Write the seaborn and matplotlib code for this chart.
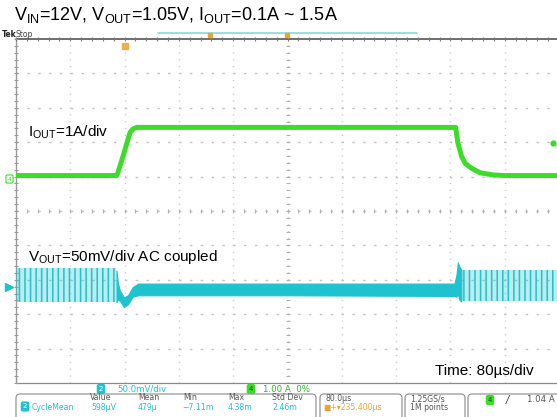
import matplotlib
matplotlib.use("Agg")
import matplotlib.pyplot as plt
import matplotlib.transforms as mtransforms
from matplotlib.patches import FancyBboxPatch
import pandas as pd
import seaborn as sns

# ---------------- acquisition data ----------------
# Channel 4: load current (A) against time (µs)
i_time_us = [0, 148.3, 150, 156, 162, 168, 172, 178,
             647.8, 651, 656.6, 662, 671.4, 683.6, 702.7, 720, 800]
i_load_a = [0.1, 0.1, 0.18, 0.55, 0.95, 1.35, 1.45, 1.5,
            1.5, 1.05, 0.65, 0.45, 0.31, 0.18, 0.12, 0.1, 0.1]

# Channel 2: output voltage envelope (mV, AC coupled)
v_left_t = [0, 148]
v_left_hi = [27, 27]
v_left_lo = [-22, -22]

v_band_t = [148, 150, 153, 159, 165, 172, 180, 200, 400, 646, 649, 651, 653, 656]
v_band_hi = [24, 6, -5, -15, -12, 0, 5, 5, 5, 5, 18, 36, 30, 25]
v_band_lo = [-22, -18, -20, -29, -25, -14, -12, -12, -12, -13, -14, -10, -18, -21]

v_right_t = [656, 800]
v_right_hi = [25, 25]
v_right_lo = [-21, -21]

trig_level_a = 1.04

# scope settings
US_PER_DIV = 80
A_PER_DIV = 1.0
MV_PER_DIV = 50
CH4_POS = 0.93    # divisions above centre
CH2_POS = -2.21

GREEN = "#3ddc2a"
CYAN = "#1fc3cf"
ORANGE = "#f0a22e"
UI_FONT = ["DejaVu Sans"]

sns.set_theme(style="white")
plt.rcParams["font.family"] = ["Liberation Sans", "DejaVu Sans"]
plt.rcParams["mathtext.default"] = "regular"
plt.rcParams["lines.scale_dashes"] = False
plt.rcParams["hatch.linewidth"] = 1.1

W, H = 557, 417
fig = plt.figure(figsize=(W / 100, H / 100), dpi=100)
fig.patch.set_facecolor("white")

GX0, GX1, GY0, GY1 = 16, 559, 39, 383
ax = fig.add_axes([GX0 / W, (H - GY1) / H, (GX1 - GX0) / W, (GY1 - GY0) / H])
ax.set_xlim(0, 10 * US_PER_DIV)
ax.set_ylim((-5 - CH4_POS) * A_PER_DIV, (5 - CH4_POS) * A_PER_DIV)
ax.axis("off")
ax2 = ax.twinx()
ax2.set_ylim((-5 - CH2_POS) * MV_PER_DIV, (5 - CH2_POS) * MV_PER_DIV)
ax2.axis("off")

# ---------------- graticule ----------------
grid_c = "#c4c4c4"
for k in range(1, 10):
    ax.plot([k / 10, k / 10], [0, 1], transform=ax.transAxes, color=grid_c,
            lw=1.0, ls=(0, (0.8, 4.15)), zorder=0)
    ax.plot([0, 1], [k / 10, k / 10], transform=ax.transAxes, color=grid_c,
            lw=1.0, ls=(0, (1.8, 6.0)), zorder=0)
minor = [j / 50 for j in range(51)]
ax.plot(minor, [0.5] * len(minor), transform=ax.transAxes, ls="none",
        marker="|", ms=3, mew=0.8, color="#b0b0b0", zorder=0)
ax.plot([0.5] * len(minor), minor, transform=ax.transAxes, ls="none",
        marker="_", ms=3, mew=0.8, color="#b0b0b0", zorder=0)
# borders
ax.plot([0, 0], [0, 1], transform=ax.transAxes, color="#9a9a9a", lw=1.0, clip_on=False)
ax.plot([0, 1], [1, 1], transform=ax.transAxes, color="#555555", lw=1.2, clip_on=False)
ax.plot([0, 1], [0, 0], transform=ax.transAxes, color="#8a8a8a", lw=0.9, clip_on=False)
ax.plot(minor, [1] * len(minor), transform=ax.transAxes, ls="none",
        marker="|", ms=3, mew=0.8, color="#777777", clip_on=False)
ax.plot([0] * len(minor), minor, transform=ax.transAxes, ls="none",
        marker="_", ms=3, mew=0.8, color="#999999", clip_on=False)

# ---------------- traces ----------------
ax2.fill_between(v_left_t, v_left_lo, v_left_hi, facecolor=(0.12, 0.76, 0.81, 0.30),
                 edgecolor=CYAN, hatch="|||", linewidth=0, zorder=2)
ax2.fill_between(v_right_t, v_right_lo, v_right_hi, facecolor=(0.12, 0.76, 0.81, 0.30),
                 edgecolor=CYAN, hatch="|||", linewidth=0, zorder=2)
ax2.fill_between(v_band_t, v_band_lo, v_band_hi, color=CYAN, linewidth=0.8, zorder=2)

cur = pd.DataFrame({"t": i_time_us, "i": i_load_a})
sns.lineplot(data=cur, x="t", y="i", ax=ax, color=GREEN, lw=3.6, zorder=3)
ax.axis("off")

# ---------------- overlay in pixel coordinates ----------------
deco = fig.add_axes([0, 0, 1, 1])
deco.set_xlim(0, W)
deco.set_ylim(H, 0)
deco.axis("off")
deco.patch.set_alpha(0)

tr4 = mtransforms.blended_transform_factory(deco.transData, ax.transData)
tr2 = mtransforms.blended_transform_factory(deco.transData, ax2.transData)
deco.text(9.5, 0, "4", transform=tr4, fontsize=4.5, color=GREEN, ha="center", va="center",
          family=UI_FONT, bbox=dict(boxstyle="round,pad=0.25", fc="white", ec=GREEN, lw=0.8))
deco.plot([9], [0], transform=tr2, marker=">", ms=6, color=CYAN, clip_on=False)
deco.plot([553], [trig_level_a], transform=tr4, marker="o", ms=3.5, color=GREEN, clip_on=False)

# title and annotations
deco.text(14, 20, r"V$_{IN}$=12V, V$_{OUT}$=1.05V, I$_{OUT}$=0.1A ~ 1.5A",
          fontsize=13, va="baseline", ha="left", color="black")
deco.text(28, 137, r"I$_{OUT}$=1A/div", fontsize=11, va="baseline", color="black")
deco.text(28, 261.5, r"V$_{OUT}$=50mV/div AC coupled", fontsize=11, va="baseline", color="black")
deco.text(435, 375.5, "Time: 80µs/div", fontsize=11, va="baseline", color="black")

# header strip
deco.text(2, 36.5, "Tek", fontsize=5.5, weight="bold", va="baseline", color="#222222",
          family=UI_FONT)
deco.text(16, 36.5, "Stop", fontsize=5.5, va="baseline", color="#444444", family=UI_FONT)
deco.plot([158, 417], [33, 33], color="#86d9e0", lw=1.2)
deco.plot([210], [34.5], marker="s", ms=3, color=ORANGE)
deco.plot([287], [35], marker="s", ms=3.5, color=ORANGE)
deco.plot([125], [46], marker="s", ms=5, color=ORANGE, alpha=0.85)

# channel badges
FS = 5.6
deco.text(101, 389, "2", fontsize=5, color="white", ha="center", va="center",
          family=UI_FONT, bbox=dict(boxstyle="round,pad=0.3", fc=CYAN, ec="none"))
deco.text(117, 389, "50.0mV/div", fontsize=6.2, color=CYAN, va="center", family=UI_FONT)
deco.text(251, 389, "4", fontsize=5, color="#0a5a0a", ha="center", va="center",
          family=UI_FONT, bbox=dict(boxstyle="round,pad=0.3", fc=GREEN, ec="none"))
deco.text(263, 389, "1.00 A  0%", fontsize=6.2, color="#2bb52b", va="center", family=UI_FONT)

# bottom boxes
for x0, w in [(16, 300), (320, 82), (405, 60), (468, 100)]:
    deco.add_patch(FancyBboxPatch((x0, 394), w, 30, boxstyle="round,pad=0,rounding_size=4",
                                  ec="#8a8a8a", fc="none", lw=0.8))

hdr_c = "#555555"
for x, s in [(90, "Value"), (138, "Mean"), (183, "Min"), (228, "Max"), (272, "Std Dev")]:
    deco.text(x, 400.5, s, fontsize=FS, color=hdr_c, va="baseline", family=UI_FONT)
deco.text(25, 406.5, "2", fontsize=5, color="white", ha="center", va="center",
          family=UI_FONT, bbox=dict(boxstyle="round,pad=0.3", fc=CYAN, ec="none"))
for x, s in [(32, "CycleMean"), (91, "598µV"), (138, "479µ"), (182, "\u22127.11m"),
             (228, "4.38m"), (272, "2.46m")]:
    deco.text(x, 410, s, fontsize=FS, color=CYAN, va="baseline", family=UI_FONT)

deco.text(325, 401, "80.0µs", fontsize=FS, color=hdr_c, va="baseline", family=UI_FONT)
deco.text(323, 410.5, "\u25a0+\u25be235.400µs", fontsize=FS, color=ORANGE, va="baseline",
          family=UI_FONT)
deco.text(410, 401, "1.25GS/s", fontsize=FS, color=hdr_c, va="baseline", family=UI_FONT)
deco.text(410, 410.5, "1M points", fontsize=FS, color=hdr_c, va="baseline", family=UI_FONT)
deco.text(490, 400, "4", fontsize=5, color="#0a5a0a", ha="center", va="center",
          family=UI_FONT, bbox=dict(boxstyle="round,pad=0.3", fc=GREEN, ec="none"))
deco.text(506, 400, "/", fontsize=7, color="#333333", va="center", style="italic",
          family=UI_FONT)
deco.text(527, 400, "1.04 A", fontsize=6.2, color=hdr_c, va="center", family=UI_FONT)

fig.savefig("out.png", dpi=100, facecolor="white")
